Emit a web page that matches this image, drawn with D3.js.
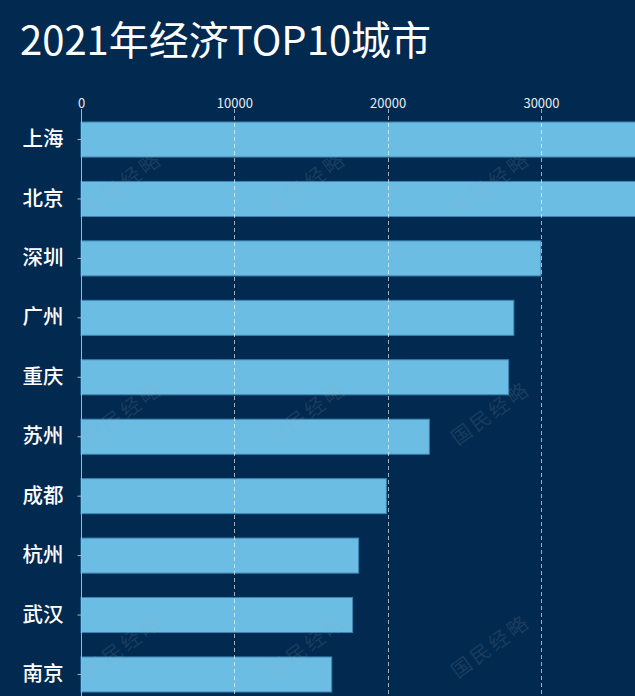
<!DOCTYPE html>
<html>
<head>
<meta charset="utf-8">
<script src="https://cdn.jsdelivr.net/npm/d3@7"></script>
<style>
  html, body { margin: 0; padding: 0; background: #02294f; overflow: hidden; }
  svg { display: block; }
</style>
</head>
<body>
<svg id="chart" width="635" height="696"></svg>
<script>
const titleText = "2021年经济TOP10城市";
const cities = ["上海", "北京", "深圳", "广州", "重庆", "苏州", "成都", "杭州", "武汉", "南京"];
const gdp = [43215, 40270, 30000, 28232, 27894, 22718, 19917, 18109, 17717, 16355];
const tickValues = [0, 10000, 20000, 30000];
const watermarkText = "国民经略";
const watermarkCols = [122, 306, 490];
const watermarkRows = [182, 412, 645];

const W = 635, H = 696;
const FONT = "'Noto Sans CJK SC', 'Noto Sans', sans-serif";
const svg = d3.select("#chart");

svg.append("rect").attr("width", W).attr("height", H).attr("fill", "#02294f");

svg.append("text")
  .attr("x", 20).attr("y", 55)
  .attr("fill", "#ffffff")
  .attr("font-family", FONT)
  .attr("font-size", 40)
  .text(titleText);

const x = d3.scaleLinear().domain([0, 40000]).range([81, 694.3]);
const y = d3.scaleBand().domain(cities).range([109.8, 704.2]).paddingInner(0.41).paddingOuter(0.205);

const data = cities.map((c, i) => ({ city: c, value: gdp[i] }));

// bars
svg.append("g").selectAll("rect").data(data).join("rect")
  .attr("x", x(0))
  .attr("y", d => y(d.city))
  .attr("width", d => x(d.value) - x(0))
  .attr("height", y.bandwidth())
  .attr("fill", "#6bbde3")
  .attr("stroke", "#3d83b0")
  .attr("stroke-width", 1);

// grid lines
svg.append("g").selectAll("line").data(tickValues.filter(v => v > 0)).join("line")
  .attr("x1", d => Math.round(x(d)) + 0.5)
  .attr("x2", d => Math.round(x(d)) + 0.5)
  .attr("y1", 109).attr("y2", H)
  .attr("stroke", "rgba(255,255,255,0.62)")
  .attr("stroke-width", 1)
  .attr("stroke-dasharray", "4,3");

// top axis labels
const xAxis = svg.append("g")
  .attr("transform", "translate(0,108)")
  .call(d3.axisTop(x).tickValues(tickValues).tickSize(0).tickPadding(0).tickFormat(d3.format("d")));
xAxis.select(".domain").remove();
xAxis.selectAll("text")
  .attr("fill", "#e6ecf0")
  .attr("font-family", FONT)
  .attr("font-size", 13)
  .attr("dy", 0);

// y axis
const yAxis = svg.append("g")
  .attr("transform", "translate(81.5,0)")
  .call(d3.axisLeft(y).tickSize(4).tickPadding(14));
yAxis.select(".domain").remove();
yAxis.selectAll(".tick line").attr("stroke", "#aab4bd");
yAxis.selectAll("text")
  .attr("fill", "#ffffff")
  .attr("font-family", FONT)
  .attr("font-size", 20.5)
  .attr("font-weight", 500);
svg.append("line")
  .attr("x1", 81.5).attr("x2", 81.5)
  .attr("y1", 109).attr("y2", H)
  .attr("stroke", "#aab4bd").attr("stroke-width", 1);

// watermarks
const wm = svg.append("g").attr("pointer-events", "none");
watermarkRows.forEach(ry => {
  watermarkCols.forEach(cx => {
    wm.append("text")
      .attr("transform", `translate(${cx},${ry}) rotate(-36)`)
      .attr("text-anchor", "middle")
      .attr("dominant-baseline", "central")
      .attr("font-family", FONT)
      .attr("font-size", 20)
      .attr("letter-spacing", 3)
      .attr("fill", "rgba(150,170,190,0.17)")
      .text(watermarkText);
  });
});
</script>
</body>
</html>
